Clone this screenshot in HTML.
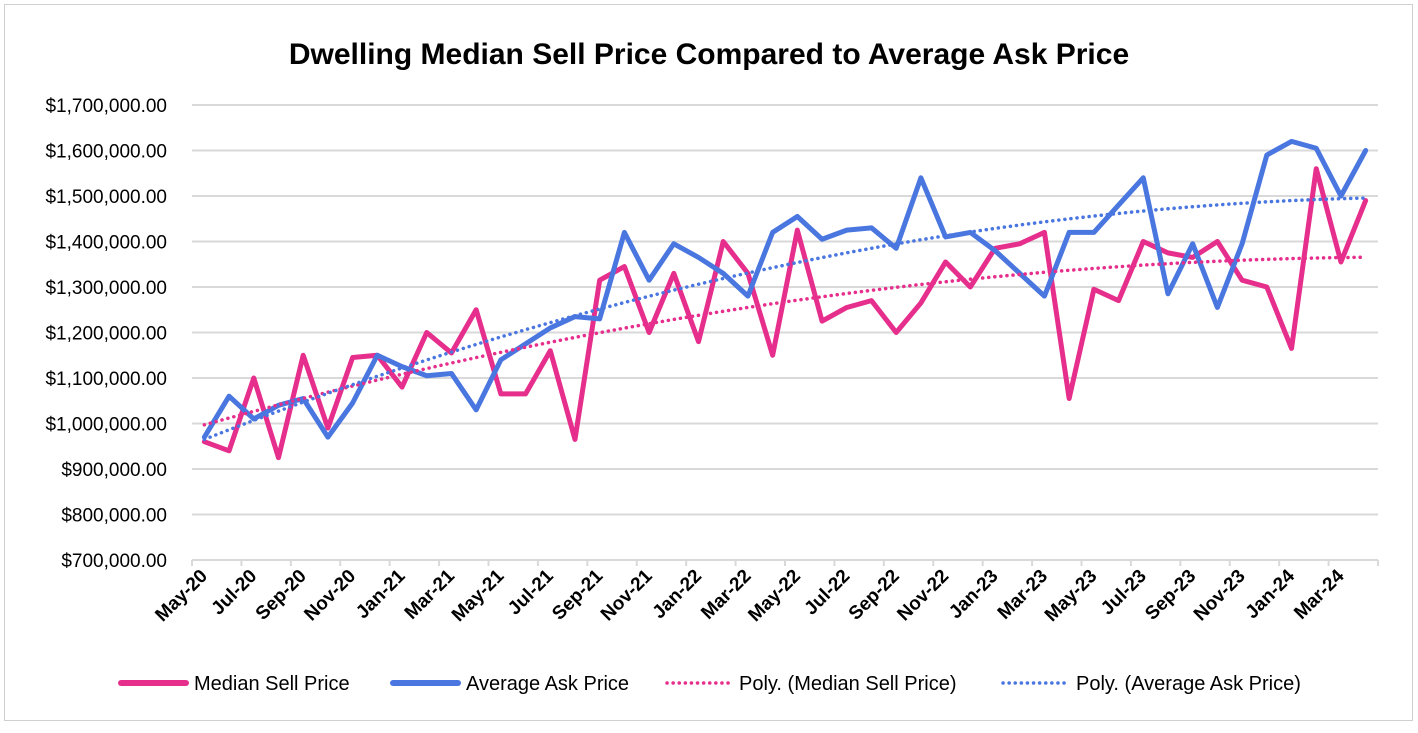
<!DOCTYPE html>
<html><head><meta charset="utf-8"><style>
body{margin:0;background:#fff;font-family:"Liberation Sans",Calibri,sans-serif}
svg text{font-family:"Liberation Sans",sans-serif}
</style></head><body>
<svg width="1418" height="728" xmlns="http://www.w3.org/2000/svg">
<rect x="4.5" y="4.5" width="1408" height="716" fill="#fff" stroke="#d0d0d0"/>
<text x="709" y="64" text-anchor="middle" font-size="30" font-weight="bold" fill="#000">Dwelling Median Sell Price Compared to Average Ask Price</text>
<g id="grid"></g><g id="yl"></g><g id="xl"></g><g id="series"></g>
<g font-size="20" fill="#000">
<line x1="121" y1="683" x2="186" y2="683" stroke="#e62e8c" stroke-width="6" stroke-linecap="round"/>
<text x="194" y="690">Median Sell Price</text>
<line x1="393" y1="683" x2="458" y2="683" stroke="#4a76e0" stroke-width="6" stroke-linecap="round"/>
<text x="466" y="690">Average Ask Price</text>
<line x1="667" y1="683" x2="730" y2="683" stroke="#e62e8c" stroke-width="3.5" stroke-dasharray="0.1 6" stroke-linecap="round"/>
<text x="739" y="690">Poly. (Median Sell Price)</text>
<line x1="1003" y1="683" x2="1066" y2="683" stroke="#4a76e0" stroke-width="3.5" stroke-dasharray="0.1 6" stroke-linecap="round"/>
<text x="1076" y="690">Poly. (Average Ask Price)</text>
</g>
</svg>
<script>
const months=["May-20","Jun-20","Jul-20","Aug-20","Sep-20","Oct-20","Nov-20","Dec-20","Jan-21","Feb-21","Mar-21","Apr-21","May-21","Jun-21","Jul-21","Aug-21","Sep-21","Oct-21","Nov-21","Dec-21","Jan-22","Feb-22","Mar-22","Apr-22","May-22","Jun-22","Jul-22","Aug-22","Sep-22","Oct-22","Nov-22","Dec-22","Jan-23","Feb-23","Mar-23","Apr-23","May-23","Jun-23","Jul-23","Aug-23","Sep-23","Oct-23","Nov-23","Dec-23","Jan-24","Feb-24","Mar-24","Apr-24"];
const medianSell=[960,940,1100,925,1150,990,1145,1150,1080,1200,1155,1250,1065,1065,1160,965,1315,1345,1200,1330,1180,1400,1330,1150,1425,1225,1255,1270,1200,1265,1355,1300,1385,1395,1420,1055,1295,1270,1400,1375,1365,1400,1315,1300,1165,1560,1355,1490];
const avgAsk=[970,1060,1010,1040,1055,970,1045,1150,1125,1105,1110,1030,1140,1175,1210,1235,1230,1420,1315,1395,1365,1330,1280,1420,1455,1405,1425,1430,1385,1540,1410,1420,1380,1330,1280,1420,1420,1480,1540,1285,1395,1255,1395,1590,1620,1605,1500,1600];
const yTicks=[700,800,900,1000,1100,1200,1300,1400,1500,1600,1700];
const NS="http://www.w3.org/2000/svg";
const x0=192,x1=1378,yTop=105,yBot=560;
const bw=(x1-x0)/months.length;
const X=i=>x0+bw*(i+0.5);
const Y=v=>yBot-(v-700)/1000*(yBot-yTop);
function mk(t,a,p){const e=document.createElementNS(NS,t);for(const k in a)e.setAttribute(k,a[k]);p.appendChild(e);return e;}
const grid=document.getElementById('grid'),yl=document.getElementById('yl'),xl=document.getElementById('xl'),ser=document.getElementById('series');
yTicks.forEach(v=>{
 const l=mk('line',{x1:x0,x2:x1,y1:Y(v),y2:Y(v),stroke:'#d9d9d9','stroke-width':2},grid);
 
 
 const t=mk('text',{x:167,y:Y(v)+7,'text-anchor':'end','font-size':19,fill:'#000'},yl);
 t.textContent='$'+(v*1000).toLocaleString('en-US')+'.00';
 
 
});
for(let i=0;i<=months.length;i+=2){
 const tk=mk('line',{x1:x0+bw*i,x2:x0+bw*i,y1:yBot,y2:yBot+6,stroke:'#d9d9d9','stroke-width':2},grid);
 
 
}
months.forEach((m,i)=>{
 if(i%2)return;
 const x=X(i)+4,y=577;
 const t=mk('text',{x:x,y:y,'text-anchor':'end','font-size':19,'font-weight':'bold',fill:'#000',transform:`rotate(-45 ${x} ${y})`},xl);
 t.textContent=m;
 
 
});
function poly2(d){
 let S=[0,0,0,0,0],T=[0,0,0];
 d.forEach((v,i)=>{const x=i+1;for(let k=0;k<5;k++)S[k]+=Math.pow(x,k);for(let k=0;k<3;k++)T[k]+=v*Math.pow(x,k);});
 const A=[[S[0],S[1],S[2],T[0]],[S[1],S[2],S[3],T[1]],[S[2],S[3],S[4],T[2]]];
 for(let c=0;c<3;c++){for(let r=c+1;r<3;r++){const f=A[r][c]/A[c][c];for(let k=c;k<4;k++)A[r][k]-=f*A[c][k];}}
 const s=[0,0,0];for(let r=2;r>=0;r--){let v=A[r][3];for(let k=r+1;k<3;k++)v-=A[r][k]*s[k];s[r]=v/A[r][r];}
 return d.map((_,i)=>s[0]+s[1]*(i+1)+s[2]*(i+1)*(i+1));
}
function line(d,col,w,dash,name){
 const p=mk('polyline',{points:d.map((v,i)=>X(i)+','+Y(v)).join(' '),fill:'none',stroke:col,'stroke-width':w,'stroke-linejoin':'round','stroke-linecap':'round'},ser);
 if(dash)p.setAttribute('stroke-dasharray',dash);
 
 
}
line(medianSell,'#e62e8c',5,null,'median-sell-line');
line(avgAsk,'#4a76e0',5,null,'average-ask-line');
line(poly2(medianSell),'#e62e8c',3.5,'0.1 6','median-trendline');
line(poly2(avgAsk),'#4a76e0',3.5,'0.1 6','ask-trendline');
</script>
</body></html>
